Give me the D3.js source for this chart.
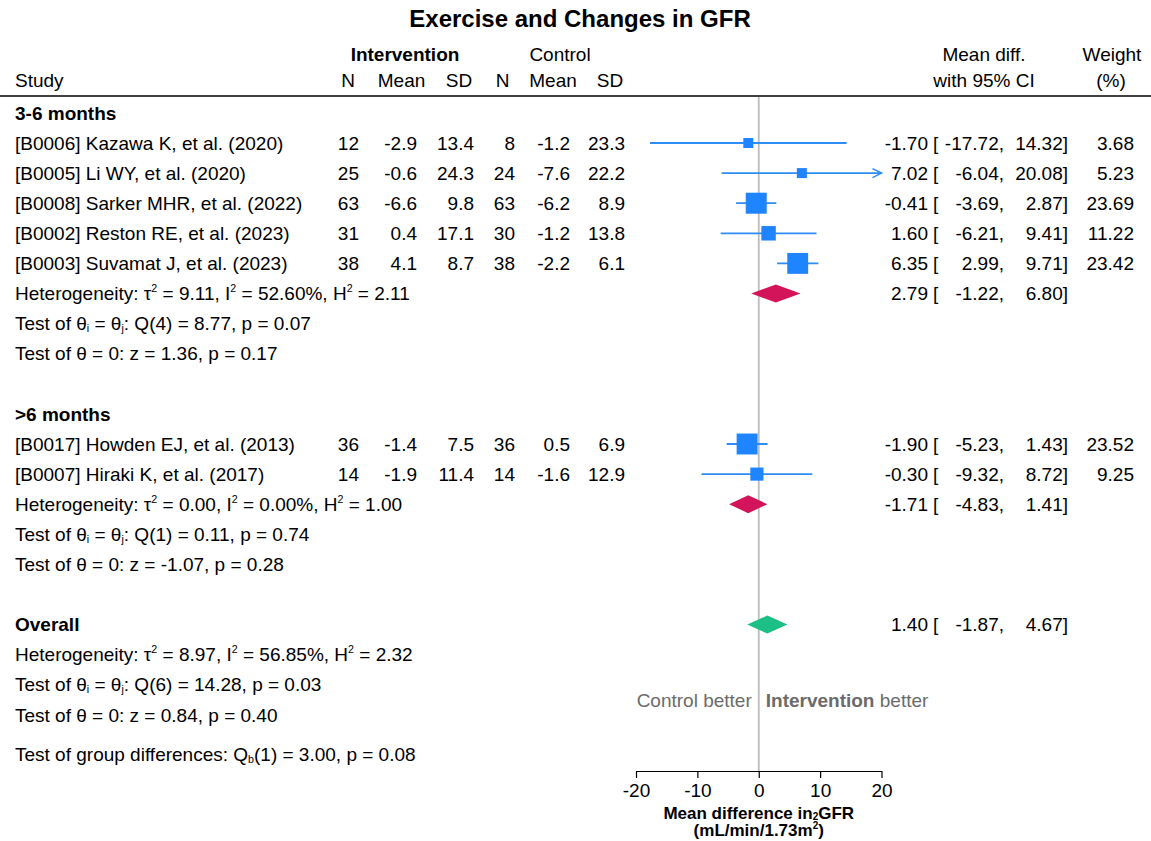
<!DOCTYPE html>
<html>
<head>
<meta charset="utf-8">
<script src="https://cdn.jsdelivr.net/npm/d3@7"></script>
<style>
  body { margin: 0; background: #fff; }
  text { font-family: "Liberation Sans", Arial, Helvetica, sans-serif; }
</style>
</head>
<body>
<svg id="chart" width="1151" height="841"></svg>
<script>
// ---- Study data ----
const groupNames = ["3-6 months", ">6 months"];
const studyLabels = [
  "[B0006] Kazawa K, et al. (2020)",
  "[B0005] Li WY, et al. (2020)",
  "[B0008] Sarker MHR, et al. (2022)",
  "[B0002] Reston RE, et al. (2023)",
  "[B0003] Suvamat J, et al. (2023)",
  "[B0017] Howden EJ, et al. (2013)",
  "[B0007] Hiraki K, et al. (2017)"
];
const studyGroup = [0, 0, 0, 0, 0, 1, 1];
const nInt    = [12, 25, 63, 31, 38, 36, 14];
const meanInt = [-2.9, -0.6, -6.6, 0.4, 4.1, -1.4, -1.9];
const sdInt   = [13.4, 24.3, 9.8, 17.1, 8.7, 7.5, 11.4];
const nCtl    = [8, 24, 63, 30, 38, 36, 14];
const meanCtl = [-1.2, -7.6, -6.2, -1.2, -2.2, 0.5, -1.6];
const sdCtl   = [23.3, 22.2, 8.9, 13.8, 6.1, 6.9, 12.9];
const effect  = [-1.70, 7.02, -0.41, 1.60, 6.35, -1.90, -0.30];
const ciLow   = [-17.72, -6.04, -3.69, -6.21, 2.99, -5.23, -9.32];
const ciHigh  = [14.32, 20.08, 2.87, 9.41, 9.71, 1.43, 8.72];
const weight  = [3.68, 5.23, 23.69, 11.22, 23.42, 23.52, 9.25];

// Subgroup pooled estimates
const groupEffect = [2.79, -1.71];
const groupLow    = [-1.22, -4.83];
const groupHigh   = [6.80, 1.41];
const groupHet = [
  "Heterogeneity: τ^2 = 9.11, I^2 = 52.60%, H^2 = 2.11",
  "Heterogeneity: τ^2 = 0.00, I^2 = 0.00%, H^2 = 1.00"
];
const groupQ = [
  "Test of θ_i = θ_j: Q(4) = 8.77, p = 0.07",
  "Test of θ_i = θ_j: Q(1) = 0.11, p = 0.74"
];
const groupZ = [
  "Test of θ = 0: z = 1.36, p = 0.17",
  "Test of θ = 0: z = -1.07, p = 0.28"
];

// Overall pooled estimate
const overallEffect = 1.40, overallLow = -1.87, overallHigh = 4.67;
const overallStats = [
  "Heterogeneity: τ^2 = 8.97, I^2 = 56.85%, H^2 = 2.32",
  "Test of θ_i = θ_j: Q(6) = 14.28, p = 0.03",
  "Test of θ = 0: z = 0.84, p = 0.40"
];
const groupDiffText = "Test of group differences: Q_b(1) = 3.00, p = 0.08";

const xTicks = [-20, -10, 0, 10, 20];
const xDomain = [-20, 20];

// ---- Layout ----
const W = 1151, H = 841;
const FS = 19;
const svg = d3.select("#chart");
svg.append("rect").attr("width", W).attr("height", H).attr("fill", "#fff");

const x = d3.scaleLinear().domain(xDomain).range([636, 881.5]);
const rowY = d3.scaleLinear().domain([0, 1]).range([143, 173.1]);
const boxSize = d3.scaleSqrt().domain([0, d3.max(weight)]).range([0, 21]);
const minBox = 10;
const axisY = 771;

const cols = {
  study: 15,
  nInt: 359, meanInt: 417, sdInt: 474,
  nCtl: 515, meanCtl: 570, sdCtl: 625,
  est: 928, brk: 933, lo: 1004, hi: 1068, wt: 1134
};

const BLUE = "#1e84ff", BLUE_LINE = "#2e8cf5";
const RED = "#d4145a", GREEN = "#1cbf85", REFGRAY = "#bcbcbc", NOTE = "#6b6b6b";

// text with ^x superscripts and _x subscripts
function richText(parent, str, xPos, yc, opts = {}) {
  const fs = opts.size || FS;
  const t = parent.append("text")
    .attr("x", xPos).attr("y", yc + fs * 0.35)
    .attr("text-anchor", opts.anchor || "start")
    .style("font-size", fs + "px")
    .style("font-weight", opts.bold ? "bold" : "normal")
    .attr("fill", opts.fill || "#000");
  let buf = "", shift = 0;
  const flush = () => {
    if (!buf) return;
    const s = t.append("tspan").text(buf);
    if (shift) { s.attr("dy", -shift); shift = 0; }
    buf = "";
  };
  for (let i = 0; i < str.length; i++) {
    const c = str[i];
    if ((c === "^" || c === "_") && i + 1 < str.length) {
      flush();
      const d = c === "^" ? -fs * 0.42 : fs * 0.1;
      const s = t.append("tspan").text(str[i + 1]).style("font-size", (fs * 0.56) + "px");
      s.attr("dy", d - shift);
      shift = d;
      i++;
    } else buf += c;
  }
  flush();
  return t;
}

function plain(parent, str, xPos, yc, anchor, bold) {
  return parent.append("text")
    .attr("x", xPos).attr("y", yc + FS * 0.35)
    .attr("text-anchor", anchor || "start")
    .style("font-size", FS + "px")
    .style("font-weight", bold ? "bold" : "normal")
    .text(str);
}

const fmt1 = v => v.toFixed(1);
const fmt2 = v => v.toFixed(2);

// ---- Title ----
svg.append("text").attr("x", 580).attr("y", 19 + 24 * 0.35)
  .attr("text-anchor", "middle").style("font-size", "24px").style("font-weight", "bold")
  .text("Exercise and Changes in GFR");

// ---- Column headers ----
const hdr = svg.append("g");
plain(hdr, "Intervention", 405, 54, "middle", true);
plain(hdr, "Control", 560, 54, "middle");
plain(hdr, "Study", cols.study, 80, "start");
[["N", 348], ["Mean", 401.5], ["SD", 459], ["N", 502.5], ["Mean", 553], ["SD", 610]]
  .forEach(([s, cx]) => plain(hdr, s, cx, 80, "middle"));
plain(hdr, "Mean diff.", 984, 54, "middle");
plain(hdr, "with 95% CI", 984, 80, "middle");
plain(hdr, "Weight", 1112, 54, "middle");
plain(hdr, "(%)", 1111, 80, "middle");
svg.append("line").attr("x1", 0).attr("x2", W).attr("y1", 96).attr("y2", 96)
  .attr("stroke", "#000").attr("stroke-width", 1.5);

// ---- Zero reference line ----
svg.append("line").attr("x1", x(0)).attr("x2", x(0)).attr("y1", 97).attr("y2", axisY)
  .attr("stroke", REFGRAY).attr("stroke-width", 1.8);

// ---- Rows ----
const body = svg.append("g");
const marks = svg.append("g");

function estimateText(yc, est, lo, hi, wt) {
  plain(body, fmt2(est), cols.est, yc, "end");
  plain(body, "[", cols.brk, yc, "start");
  plain(body, fmt2(lo) + ",", cols.lo, yc, "end");
  plain(body, fmt2(hi) + "]", cols.hi, yc, "end");
  if (wt != null) plain(body, fmt2(wt), cols.wt, yc, "end");
}

function diamond(yc, est, lo, hi, color) {
  marks.append("path")
    .attr("d", `M${x(lo)},${yc} L${x(est)},${yc - 9} L${x(hi)},${yc} L${x(est)},${yc + 9} Z`)
    .attr("fill", color);
}

let slot = -1;
groupNames.forEach((gname, gi) => {
  plain(body, gname, cols.study, rowY(slot), "start", true);
  slot++;
  studyLabels.forEach((lab, i) => {
    if (studyGroup[i] !== gi) return;
    const yc = rowY(slot);
    plain(body, lab, cols.study, yc, "start");
    plain(body, String(nInt[i]), cols.nInt, yc, "end");
    plain(body, fmt1(meanInt[i]), cols.meanInt, yc, "end");
    plain(body, fmt1(sdInt[i]), cols.sdInt, yc, "end");
    plain(body, String(nCtl[i]), cols.nCtl, yc, "end");
    plain(body, fmt1(meanCtl[i]), cols.meanCtl, yc, "end");
    plain(body, fmt1(sdCtl[i]), cols.sdCtl, yc, "end");
    estimateText(yc, effect[i], ciLow[i], ciHigh[i], weight[i]);

    // confidence interval, clipped to the axis range with an arrow
    const lo = Math.max(ciLow[i], xDomain[0]);
    const hi = Math.min(ciHigh[i], xDomain[1]);
    marks.append("line").attr("x1", x(lo)).attr("x2", x(hi)).attr("y1", yc).attr("y2", yc)
      .attr("stroke", BLUE_LINE).attr("stroke-width", 1.8);
    if (ciHigh[i] > xDomain[1]) {
      const tip = x(xDomain[1]);
      marks.append("path").attr("d", `M${tip - 9},${yc - 4.5} L${tip},${yc} L${tip - 9},${yc + 4.5}`)
        .attr("fill", "none").attr("stroke", BLUE_LINE).attr("stroke-width", 1.6);
    }
    if (ciLow[i] < xDomain[0]) {
      const tip = x(xDomain[0]);
      marks.append("path").attr("d", `M${tip + 9},${yc - 4.5} L${tip},${yc} L${tip + 9},${yc + 4.5}`)
        .attr("fill", "none").attr("stroke", BLUE_LINE).attr("stroke-width", 1.6);
    }
    const s = Math.max(minBox, boxSize(weight[i]));
    marks.append("rect").attr("x", x(effect[i]) - s / 2).attr("y", yc - s / 2)
      .attr("width", s).attr("height", s).attr("fill", BLUE);
    slot++;
  });
  const yh = rowY(slot);
  richText(body, groupHet[gi], cols.study, yh);
  diamond(yh, groupEffect[gi], groupLow[gi], groupHigh[gi], RED);
  estimateText(yh, groupEffect[gi], groupLow[gi], groupHigh[gi], null);
  slot++;
  richText(body, groupQ[gi], cols.study, rowY(slot)); slot++;
  richText(body, groupZ[gi], cols.study, rowY(slot)); slot++;
  slot++; // spacer
});

// Overall
const yo = rowY(slot);
plain(body, "Overall", cols.study, yo, "start", true);
diamond(yo, overallEffect, overallLow, overallHigh, GREEN);
estimateText(yo, overallEffect, overallLow, overallHigh, null);
slot++;
overallStats.forEach(s => { richText(body, s, cols.study, rowY(slot)); slot++; });
richText(body, groupDiffText, cols.study, rowY(slot + 0.3));

// ---- Favours labels ----
const fav = svg.append("g");
fav.append("text").attr("x", x(0) - 7).attr("y", 700 + FS * 0.35).attr("text-anchor", "end")
  .style("font-size", FS + "px").attr("fill", NOTE).text("Control better");
const favR = fav.append("text").attr("x", x(0) + 7).attr("y", 700 + FS * 0.35)
  .style("font-size", FS + "px").attr("fill", NOTE);
favR.append("tspan").style("font-weight", "bold").text("Intervention");
favR.append("tspan").text(" better");

// ---- Axis ----
const axis = d3.axisBottom(x).tickValues(xTicks).tickSize(7).tickSizeOuter(0)
  .tickPadding(6).tickFormat(d => String(d));
const ag = svg.append("g").attr("transform", `translate(0,${axisY})`).call(axis);
ag.select(".domain").attr("stroke", "#000").attr("stroke-width", 1.2);
ag.selectAll(".tick line").attr("stroke", "#000").attr("stroke-width", 1.2);
ag.selectAll(".tick text").style("font-size", FS + "px")
  .style("font-family", '"Liberation Sans", Arial, sans-serif').attr("fill", "#000");

// Axis title
const at1 = svg.append("text").attr("x", x(0)).attr("y", 819).attr("text-anchor", "middle")
  .style("font-size", "17px").style("font-weight", "bold");
at1.append("tspan").text("Mean difference in");
at1.append("tspan").text("2").style("font-size", "10px").attr("dy", 1);
at1.append("tspan").text("GFR").attr("dy", -1);
const at2 = svg.append("text").attr("x", x(0)).attr("y", 836).attr("text-anchor", "middle")
  .style("font-size", "17px").style("font-weight", "bold");
at2.append("tspan").text("(mL/min/1.73m");
at2.append("tspan").text("2").style("font-size", "10px").attr("dy", -7);
at2.append("tspan").text(")").attr("dy", 7);
</script>
</body>
</html>
